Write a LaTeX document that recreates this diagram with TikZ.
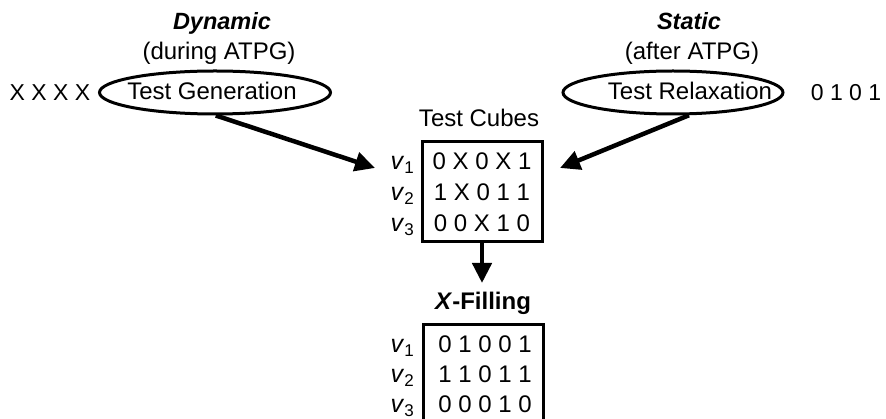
\documentclass[tikz,border=0pt]{standalone}
\usepackage{fontspec}
\setmainfont{Liberation Sans}
\usetikzlibrary{arrows.meta,shapes.geometric}
% vector label: italic v with a lowered upright index
\newcommand{\vlab}[1]{{\fontsize{25}{27}\selectfont\textit{v}}\raisebox{-4pt}{\fontsize{17}{17}\selectfont #1}}
\begin{document}
\begin{tikzpicture}[x=1pt,y=-1pt,
  every node/.style={font=\fontsize{24}{28}\selectfont, inner sep=0pt},
  stage/.style={draw, ellipse, line width=3pt, inner sep=0pt},
  cubebox/.style={draw, rectangle, line width=3pt, minimum width=120pt, minimum height=100pt},
  flow/.style={line width=4.5pt, -{Triangle[length=20pt,width=19pt]}},
  heading/.style={font=\fontsize{23.5}{28}\selectfont\bfseries\itshape, anchor=base},
  txt/.style={anchor=base},
  bits/.style={font=\fontsize{23}{27}\selectfont},
  vec/.style={anchor=base east}]
\useasboundingbox (0,0) rectangle (886,419);

% dynamic branch
\node[heading] (dyn) at (222,30) {Dynamic};
\node[txt] (during) at (219,60) {(during ATPG)};
\node[stage, minimum width=231pt, minimum height=43pt] (gen) at (215,92.5) {};
\node[txt] (gentext) at (212,100) {Test Generation};
\node[bits] (xs) at (50,92.5) {X X X X};

% static branch
\node[heading] (stat) at (689,30) {Static};
\node[txt] (after) at (692,60) {(after ATPG)};
\node[stage, minimum width=220pt, minimum height=43pt] (relax) at (673,92.5) {};
\node[txt] (relaxtext) at (690,100) {Test Relaxation};
\node[bits] (ones) at (846,92.5) {0 1 0 1};

% test cubes
\node[txt] (tclabel) at (479,127) {Test Cubes};
\node[cubebox] (cubes) at (482,192) {};
\node[txt] (c1) at (482,170) {0 X 0 X 1};
\node[txt] (c2) at (482,201) {1 X 0 1 1};
\node[txt] (c3) at (482,232) {0 0 X 1 0};
\node[vec] (cv1) at (414,170) {\vlab{1}};
\node[vec] (cv2) at (414,201) {\vlab{2}};
\node[vec] (cv3) at (414,232) {\vlab{3}};

% filled vectors
\node[txt] (xfill) at (483,310) {\textbf{\textit{X}-Filling}};
\node[cubebox, minimum height=101pt] (filled) at (483,375.5) {};
\node[txt] (f1) at (485,353) {0 1 0 0 1};
\node[txt] (f2) at (485,383) {1 1 0 1 1};
\node[txt] (f3) at (485,413) {0 0 0 1 0};
\node[vec] (fv1) at (414,353) {\vlab{1}};
\node[vec] (fv2) at (414,383) {\vlab{2}};
\node[vec] (fv3) at (414,413) {\vlab{3}};

% connectors
\coordinate (tipA) at (375,168);
\coordinate (tipB) at (560,168);
\coordinate (tipC) at (482,283);
\draw[flow] (gen.-88) -- (tipA);
\draw[flow] (relax.-55) -- (tipB);
\draw[flow] (cubes.south) -- (tipC);
\end{tikzpicture}
\end{document}
